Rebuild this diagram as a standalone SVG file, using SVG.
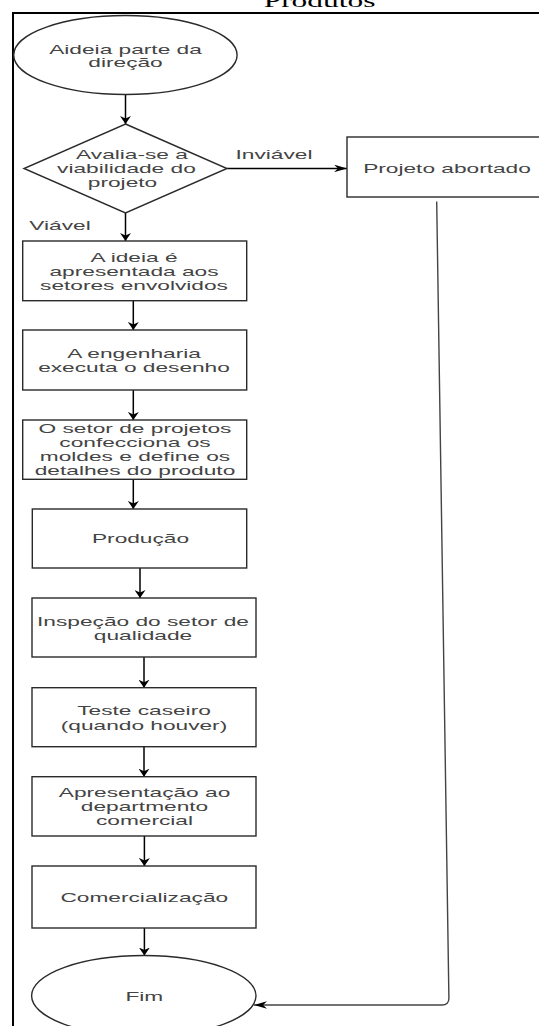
<svg xmlns="http://www.w3.org/2000/svg" width="539" height="1026" viewBox="0 0 539 1026">
<style>
.shape{fill:#fff;stroke:#2a2a2a;stroke-width:1.4}
.t{font-family:"Liberation Sans",Arial,sans-serif;font-size:13px;fill:#444;text-anchor:middle;dominant-baseline:central}
.title{font-family:"Liberation Serif","Times New Roman",serif;font-size:18px;fill:#000;text-anchor:middle}
.edge{fill:none;stroke:#000;stroke-width:1.5}
.ret{fill:none;stroke:#444;stroke-width:1.4}
.frame{fill:none;stroke:#000;stroke-width:2}
</style>
<defs>
<marker id="av" markerUnits="userSpaceOnUse" viewBox="0 0 8 11" refX="8" refY="5.5" markerWidth="8" markerHeight="11" orient="auto"><path d="M0,0 L8,5.5 L0,11 L2.5,5.5 Z" fill="#000"/></marker>
<marker id="ah" markerUnits="userSpaceOnUse" viewBox="0 0 13 7.6" refX="13" refY="3.8" markerWidth="13" markerHeight="7.6" orient="auto"><path d="M0,0 L13,3.8 L0,7.6 L4,3.8 Z" fill="#000"/></marker>
</defs>
<rect width="539" height="1026" fill="#fff"/>
<text class="title" transform="translate(319.5,7) scale(1.746,1)">Produtos</text>
<path class="frame" d="M13,1026 L13,13 L539,13"/>

<g id="connectors">
<line class="edge" x1="125.5" y1="94.5" x2="125.5" y2="124" marker-end="url(#av)"/>
<line class="edge" x1="227" y1="168.4" x2="347" y2="168.4" marker-end="url(#ah)"/>
<line class="edge" x1="125.5" y1="213" x2="125.5" y2="241" marker-end="url(#av)"/>
<line class="edge" x1="133.3" y1="300.7" x2="133.3" y2="330" marker-end="url(#av)"/>
<line class="edge" x1="133.3" y1="390" x2="133.3" y2="420" marker-end="url(#av)"/>
<line class="edge" x1="133.3" y1="479.3" x2="133.3" y2="509" marker-end="url(#av)"/>
<line class="edge" x1="140" y1="568" x2="140" y2="598" marker-end="url(#av)"/>
<line class="edge" x1="144" y1="657" x2="144" y2="687.7" marker-end="url(#av)"/>
<line class="edge" x1="144" y1="746.7" x2="144" y2="776.7" marker-end="url(#av)"/>
<line class="edge" x1="144.4" y1="836" x2="144.4" y2="866" marker-end="url(#av)"/>
<line class="edge" x1="144.4" y1="928" x2="144.4" y2="955.5" marker-end="url(#av)"/>
<path class="ret" d="M436.7,201.5 L448.9,998 Q449,1005 442,1005 L254,1005" marker-end="url(#ah)"/>
<g transform="translate(274,0) scale(1.746,1)"><text class="t" y="154">Inviável</text></g>
<g transform="translate(60,0) scale(1.746,1)"><text class="t" y="225">Viável</text></g>
</g>

<g id="start">
<ellipse class="shape" cx="125.4" cy="55" rx="111.7" ry="39.5"/>
<g transform="translate(125.5,0) scale(1.746,1)"><text class="t" y="49">Aideia parte da</text><text class="t" y="62">direção</text></g>
</g>

<g id="decision">
<polygon class="shape" points="125.5,124 227,168.5 125.5,213 24,168.5"/>
<g transform="translate(132,0) scale(1.746,1)"><text class="t" y="154.7">Avalia-se a</text></g>
<g transform="translate(126.4,0) scale(1.746,1)"><text class="t" y="168.4">viabilidade do</text></g>
<g transform="translate(122.5,0) scale(1.746,1)"><text class="t" y="182">projeto</text></g>
</g>

<g id="abortado">
<rect class="shape" x="347" y="137" width="220" height="60"/>
<g transform="translate(447,0) scale(1.746,1)"><text class="t" y="168.4">Projeto abortado</text></g>
</g>

<g id="apresentada">
<rect class="shape" x="22.7" y="241" width="224" height="59.7"/>
<g transform="translate(134,0) scale(1.746,1)"><text class="t" y="257">A ideia é</text><text class="t" y="271.3">apresentada aos</text><text class="t" y="285.5">setores envolvidos</text></g>
</g>

<g id="engenharia">
<rect class="shape" x="22.7" y="330" width="224" height="60"/>
<g transform="translate(134,0) scale(1.746,1)"><text class="t" y="353.3">A engenharia</text><text class="t" y="367.3">executa o desenho</text></g>
</g>

<g id="projetos">
<rect class="shape" x="22.7" y="420" width="224" height="59.3"/>
<g transform="translate(135,0) scale(1.746,1)"><text class="t" y="428.3">O setor de projetos</text><text class="t" y="442.7">confecciona os</text><text class="t" y="456.7">moldes e define os</text><text class="t" y="470.7">detalhes do produto</text></g>
</g>

<g id="producao">
<rect class="shape" x="32.3" y="509" width="214.4" height="59"/>
<g transform="translate(140.5,0) scale(1.746,1)"><text class="t" y="538.3">Produção</text></g>
</g>

<g id="inspecao">
<rect class="shape" x="32" y="598" width="224" height="59"/>
<g transform="translate(143,0) scale(1.746,1)"><text class="t" y="621.7">Inspeção do setor de</text><text class="t" y="635">qualidade</text></g>
</g>

<g id="teste">
<rect class="shape" x="32" y="687.7" width="224" height="59"/>
<g transform="translate(144,0) scale(1.746,1)"><text class="t" y="710.7">Teste caseiro</text><text class="t" y="725">(quando houver)</text></g>
</g>

<g id="comercial">
<rect class="shape" x="32" y="776.7" width="224" height="59.3"/>
<g transform="translate(144.5,0) scale(1.746,1)"><text class="t" y="792.7">Apresentação ao</text><text class="t" y="806.3">departmento</text><text class="t" y="820.7">comercial</text></g>
</g>

<g id="comercializacao">
<rect class="shape" x="32" y="866" width="224" height="62"/>
<g transform="translate(144.3,0) scale(1.746,1)"><text class="t" y="897.7">Comercialização</text></g>
</g>

<g id="fim">
<ellipse class="shape" cx="143.8" cy="995.8" rx="112.2" ry="40.3"/>
<g transform="translate(144.3,0) scale(1.746,1)"><text class="t" y="996.7">Fim</text></g>
</g>
</svg>
